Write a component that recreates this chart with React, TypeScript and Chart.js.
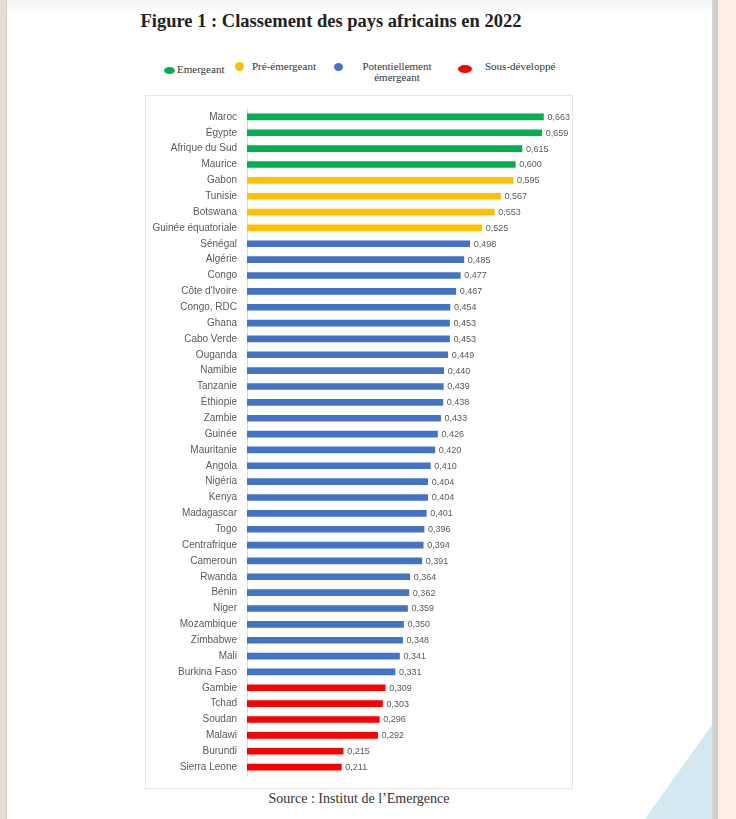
import React, { useEffect, useRef } from "react";
import { Chart, registerables } from "chart.js";

Chart.register(...registerables);

const countries = [
  "Maroc", "Égypte", "Afrique du Sud", "Maurice", "Gabon", "Tunisie", "Botswana",
  "Guinée équatoriale", "Sénégal", "Algérie", "Congo", "Côte d'Ivoire", "Congo, RDC",
  "Ghana", "Cabo Verde", "Ouganda", "Namibie", "Tanzanie", "Éthiopie", "Zambie",
  "Guinée", "Mauritanie", "Angola", "Nigéria", "Kenya", "Madagascar", "Togo",
  "Centrafrique", "Cameroun", "Rwanda", "Bénin", "Niger", "Mozambique", "Zimbabwe",
  "Mali", "Burkina Faso", "Gambie", "Tchad", "Soudan", "Malawi", "Burundi", "Sierra Leone",
];

const scores = [
  0.663, 0.659, 0.615, 0.6, 0.595, 0.567, 0.553,
  0.525, 0.498, 0.485, 0.477, 0.467, 0.454,
  0.453, 0.453, 0.449, 0.44, 0.439, 0.438, 0.433,
  0.426, 0.42, 0.41, 0.404, 0.404, 0.401, 0.396,
  0.394, 0.391, 0.364, 0.362, 0.359, 0.35, 0.348,
  0.341, 0.331, 0.309, 0.303, 0.296, 0.292, 0.215, 0.211,
];

// E = Emergeant, P = Pré-émergeant, PE = Potentiellement émergeant, S = Sous-développé
const groups = [
  "E", "E", "E", "E", "P", "P", "P",
  "P", "PE", "PE", "PE", "PE", "PE",
  "PE", "PE", "PE", "PE", "PE", "PE", "PE",
  "PE", "PE", "PE", "PE", "PE", "PE", "PE",
  "PE", "PE", "PE", "PE", "PE", "PE", "PE",
  "PE", "PE", "S", "S", "S", "S", "S", "S",
];

const legendLabels = ["Emergeant", "Pré-émergeant", "Potentiellement émergeant", "Sous-développé"];

const groupColors: Record<string, string> = {
  E: "#00b050",
  P: "#ffc000",
  PE: "#4472c4",
  S: "#ff0000",
};

const valueLabels = {
  id: "valueLabels",
  afterDatasetsDraw(chart: any) {
    const ctx = chart.ctx;
    const meta = chart.getDatasetMeta(0);
    const data = chart.data.datasets[0].data as number[];
    ctx.save();
    ctx.font = "9px 'Liberation Sans', Arial, sans-serif";
    ctx.fillStyle = "#595959";
    ctx.textAlign = "left";
    ctx.textBaseline = "middle";
    meta.data.forEach((bar: any, i: number) => {
      const txt = data[i].toFixed(3).replace(".", ",");
      ctx.fillText(txt, bar.x + 4, bar.y + 0.5);
    });
    ctx.restore();
  },
};

function BarChart() {
  const ref = useRef<HTMLCanvasElement>(null);
  useEffect(() => {
    if (!ref.current) return;
    const chart = new Chart(ref.current, {
      type: "bar",
      data: {
        labels: countries,
        datasets: [
          {
            data: scores,
            backgroundColor: groups.map((g) => groupColors[g]),
            barThickness: 6,
          },
        ],
      },
      options: {
        indexAxis: "y",
        animation: false,
        responsive: false,
        events: [],
        layout: { padding: { top: 13, bottom: 13, left: 0, right: 12 } },
        plugins: {
          legend: { display: false },
          tooltip: { enabled: false },
        },
        scales: {
          x: { display: false, min: 0, max: 0.7 },
          y: {
            afterFit(scale: any) {
              scale.width = 101;
              scale.paddingTop = 0;
              scale.paddingBottom = 0;
            },
            grid: { display: false, drawTicks: false },
            border: { display: true, color: "#d9d9d9", width: 1 },
            ticks: {
              padding: 10,
              color: "#595959",
              font: { family: "'Liberation Sans', Arial, sans-serif", size: 10 },
              autoSkip: false,
            },
          },
        },
      },
      plugins: [valueLabels],
    });
    return () => chart.destroy();
  }, []);
  return <canvas ref={ref} width={426} height={692} style={{ display: "block" }} />;
}

const serif = "'Liberation Serif', 'Times New Roman', serif";

export default function App() {
  const dot = (left: number, top: number, w: number, h: number, color: string) => (
    <div
      style={{
        position: "absolute",
        left,
        top,
        width: w,
        height: h,
        borderRadius: "50%",
        background: color,
      }}
    />
  );
  const legendText = (left: number, top: number, text: React.ReactNode, extra: any = {}) => (
    <div
      style={{
        position: "absolute",
        left,
        top,
        fontFamily: serif,
        fontSize: 11,
        lineHeight: "11px",
        color: "#333",
        whiteSpace: "nowrap",
        ...extra,
      }}
    >
      {text}
    </div>
  );
  return (
    <div
      style={{
        position: "absolute",
        left: 0,
        top: 0,
        width: 736,
        height: 819,
        overflow: "hidden",
        background: "#ffffff",
      }}
    >
      {/* page frame */}
      <div style={{ position: "absolute", left: 0, top: 0, width: 7, height: 819, background: "#e4dcd9" }} />
      <div style={{ position: "absolute", left: 6, top: 0, width: 1, height: 819, background: "#cfcfcf" }} />
      <div
        style={{
          position: "absolute",
          left: 7,
          top: 0,
          width: 705,
          height: 16,
          background: "linear-gradient(#f4f4f4, #ffffff)",
        }}
      />
      <div style={{ position: "absolute", left: 712, top: 0, width: 6, height: 819, background: "linear-gradient(90deg, #d8d8d8, #c9c9c9)" }} />
      <div style={{ position: "absolute", left: 718, top: 0, width: 18, height: 819, background: "#fdefe6" }} />
      <svg style={{ position: "absolute", left: 0, top: 0 }} width={736} height={819}>
        <polygon points="712,725 712,819 645,819" fill="#d3e8f0" />
      </svg>

      {/* title */}
      <div
        style={{
          position: "absolute",
          left: 0,
          top: 11,
          width: 662,
          textAlign: "center",
          fontFamily: serif,
          fontWeight: "bold",
          fontSize: 18.5,
          lineHeight: "20px",
          color: "#222",
          whiteSpace: "nowrap",
        }}
      >
        Figure 1 : Classement des pays africains en 2022
      </div>

      {/* legend */}
      {dot(164, 67, 11, 7, groupColors.E)}
      {legendText(177, 64, legendLabels[0])}
      {dot(235, 62, 9, 9, groupColors.P)}
      {legendText(252, 61, legendLabels[1])}
      {dot(334, 63, 9, 8, groupColors.PE)}
      {legendText(362, 61, (
        <>
          Potentiellement
          <br />
          émergeant
        </>
      ), { textAlign: "center", width: 70 })}
      {dot(458, 65, 14, 8, groupColors.S)}
      {legendText(485, 61, legendLabels[3])}

      {/* chart box */}
      <div
        style={{
          position: "absolute",
          left: 145,
          top: 95,
          width: 426,
          height: 692,
          border: "1px solid #e6e6e6",
          background: "#fff",
        }}
      >
        <BarChart />
      </div>

      {/* source */}
      <div
        style={{
          position: "absolute",
          left: 0,
          top: 791,
          width: 718,
          textAlign: "center",
          fontFamily: serif,
          fontSize: 14,
          lineHeight: "16px",
          color: "#333",
          whiteSpace: "nowrap",
        }}
      >
        Source : Institut de l’Emergence
      </div>
    </div>
  );
}
